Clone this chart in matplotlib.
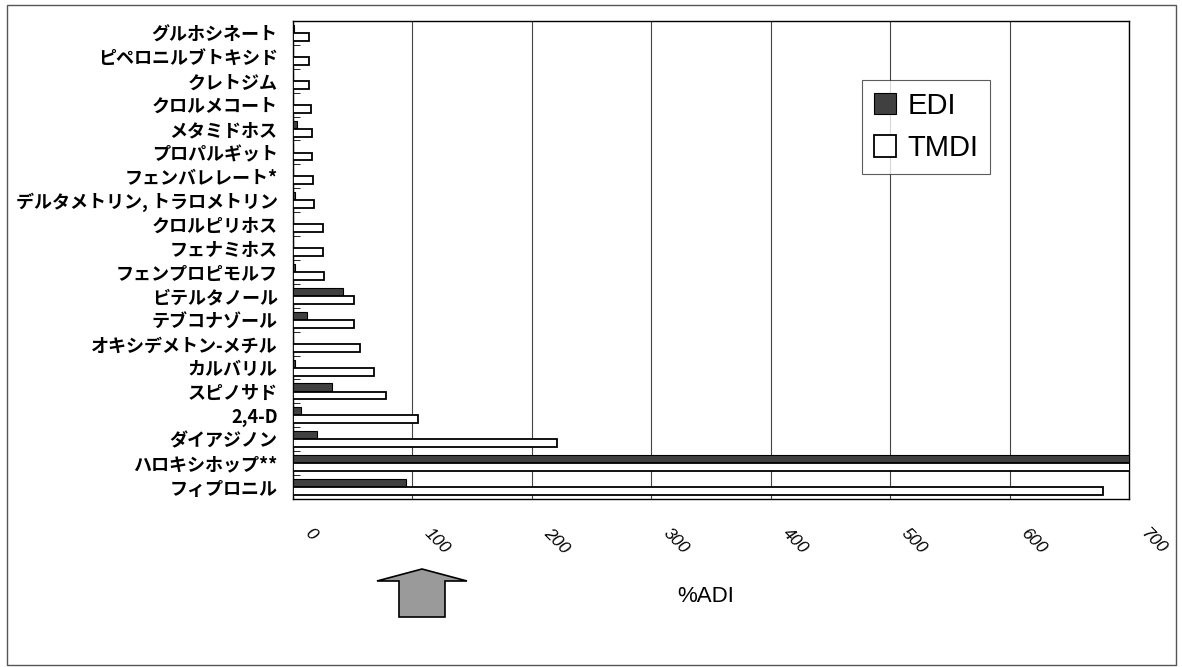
import matplotlib
matplotlib.use("Agg")
import matplotlib.pyplot as plt
import matplotlib.transforms as mtransforms
from matplotlib.patches import Polygon, Rectangle
import numpy as np

# 農薬名 (上から順)
names = [
    "グルホシネート", "ピペロニルブトキシド", "クレトジム", "クロルメコート",
    "メタミドホス", "プロパルギット", "フェンバレレート*", "デルタメトリン, トラロメトリン",
    "クロルピリホス", "フェナミホス", "フェンプロピモルフ", "ビテルタノール",
    "テブコナゾール", "オキシデメトン-メチル", "カルバリル", "スピノサド",
    "2,4-D", "ダイアジノン", "ハロキシホップ**", "フィプロニル",
]
# %ADI (図から読み取った推定値, ハロキシホップは700超で切れている)
edi = [1, 0, 0, 0, 3, 0, 0, 2, 0, 0, 2, 42, 12, 0, 2, 33, 7, 20, 1200, 95]
tmdi = [13, 13, 13, 15, 16, 16, 17, 18, 25, 25, 26, 51, 51, 56, 68, 78, 105, 221, 2500, 678]

xticks = [0, 100, 200, 300, 400, 500, 600, 700]
xlabel = "%ADI"
arrow_at = 108  # 矢印の位置 (%ADI)

W, H = 1182, 667
fig = plt.figure(figsize=(W / 100, H / 100), dpi=100)
ax = fig.add_axes([293 / W, 1 - 499 / H, (1129 - 293) / W, (499 - 21) / H])

y = np.arange(len(names))
bh = 0.33
b_edi = ax.barh(y - 0.17, edi, height=bh, color="#404040", edgecolor="black", lw=0.8,
                label="EDI", zorder=3)
b_tmdi = ax.barh(y + 0.17, tmdi, height=bh, color="white", edgecolor="black", lw=1.3,
                 label="TMDI", zorder=3)

ax.set_xlim(0, 700)
ax.set_ylim(len(names) - 0.5, -0.5)
ax.set_xticks(xticks)
ax.tick_params(axis="x", length=0, labelbottom=False)
ax.grid(axis="x", color="#444444", lw=0.8, zorder=1)

ax.set_yticks(y)
ax.set_yticklabels(names, family=["Noto Sans CJK JP", "DejaVu Sans"], fontweight="bold",
                   fontsize=13)
ax.tick_params(axis="y", length=0, pad=11)
ax.set_yticks(np.arange(len(names)) + 0.5, minor=True)
ax.tick_params(axis="y", which="minor", direction="in", length=5, width=0.6)
for s in ax.spines.values():
    s.set_linewidth(1.0)

# 斜めの目盛ラベル
tr = mtransforms.offset_copy(ax.get_xaxis_transform(), fig=fig, x=14, y=-32, units="dots")
for v in xticks:
    ax.text(v, 0, str(v), transform=tr, rotation=-45, rotation_mode="anchor",
            ha="left", va="center", fontstyle="italic", fontsize=12.5,
            family="Liberation Sans")

fig.text(706 / W, 1 - 596 / H, xlabel, ha="center", va="center", fontsize=16,
         family="Liberation Sans")

leg = ax.legend(handles=[b_edi, b_tmdi], loc="lower left",
                bbox_to_anchor=(862 / W, 1 - 174 / H), bbox_transform=fig.transFigure,
                borderaxespad=0, fancybox=False, frameon=True, handlelength=0.75,
                handleheight=0.75, handletextpad=0.4, labelspacing=0.5,
                prop={"family": "Liberation Sans", "size": 21}, borderpad=0.4)
leg.get_frame().set_edgecolor("#333333")
leg.get_frame().set_linewidth(0.8)

# 矢印 (100%ADI 付近を指す)
cx = ax.transData.transform((arrow_at, 0))[0]
tip_y = H - 569
shape = [(0, 0), (45, -12), (23, -12), (23, -48), (-23, -48), (-23, -12), (-45, -12)]
pts = [((cx + dx) / W, (tip_y + dy) / H) for dx, dy in shape]
fig.patches.append(Polygon(pts, closed=True, transform=fig.transFigure,
                           facecolor="#9a9a9a", edgecolor="black", lw=1.2))

# 外枠
fig.patches.append(Rectangle((7 / W, 2 / H), (1176 - 7) / W, (665 - 5) / H,
                             transform=fig.transFigure, fill=False,
                             edgecolor="#555555", lw=1.0))

fig.savefig("out.png", dpi=100)
